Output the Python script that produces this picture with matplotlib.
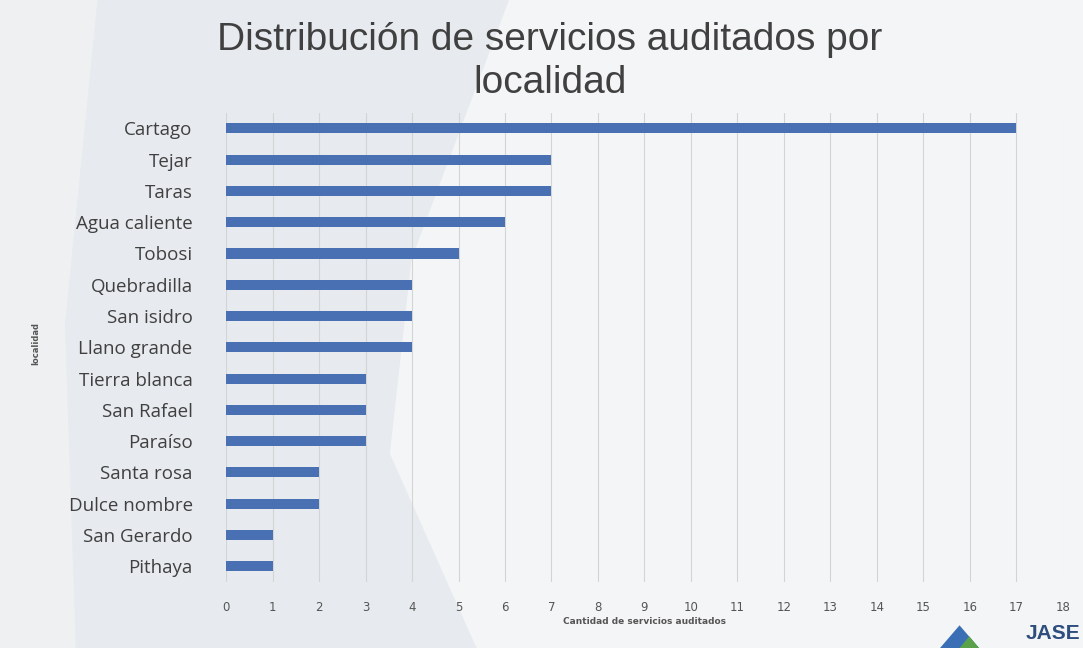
import matplotlib.pyplot as plt
from matplotlib.patches import Polygon

# datos
localidades = ["Cartago", "Tejar", "Taras", "Agua caliente", "Tobosi",
               "Quebradilla", "San isidro", "Llano grande", "Tierra blanca",
               "San Rafael", "Paraíso", "Santa rosa", "Dulce nombre",
               "San Gerardo", "Pithaya"]
servicios = [17, 7, 7, 6, 5, 4, 4, 4, 3, 3, 3, 2, 2, 1, 1]
ticks_x = list(range(0, 19))

fig = plt.figure(figsize=(10.83, 6.48), dpi=100)
fig.patch.set_facecolor("#f4f5f6")

# fondo tipo marca de agua (detrás de los ejes)
fig.patches.append(Polygon([(0, 0), (0.44, 0), (0.36, 0.3), (0.38, 0.6), (0.47, 1.0), (0, 1)],
                           closed=True, transform=fig.transFigure,
                           facecolor="#e7eaee", edgecolor="none", zorder=-2))
fig.patches.append(Polygon([(0, 0), (0.07, 0), (0.06, 0.5), (0.09, 1.0), (0, 1)],
                           closed=True, transform=fig.transFigure,
                           facecolor="#eef0f1", edgecolor="none", zorder=-1))

ax = fig.add_axes([0.2087, 0.102, 0.7728, 0.724])
ax.patch.set_alpha(0)

y = list(range(len(localidades)))
ax.barh(y, servicios, height=0.32, color="#4a70b4", zorder=3)
ax.set_ylim(len(localidades) - 0.5, -0.5)
ax.set_xlim(0, 18)
ax.set_xticks(ticks_x)
ax.set_xticklabels([str(t) for t in ticks_x], fontsize=8.5, color="#555555",
                   family="DejaVu Sans")
ax.set_yticks(y)
ax.set_yticklabels(localidades, fontsize=13.5, color="#404040", family="Open Sans")
ax.tick_params(axis="both", length=0)
ax.tick_params(axis="x", pad=14)
ax.tick_params(axis="y", pad=24)
ax.xaxis.grid(True, color="#d4d4d4", linewidth=0.8, zorder=0)
for s in ax.spines.values():
    s.set_visible(False)

ax.set_xlabel("Cantidad de servicios auditados", fontsize=6.5, color="#555555",
              fontweight="bold", labelpad=2)
fig.text(0.033, 0.47, "localidad", rotation=90, fontsize=6, color="#555555",
         ha="center", va="center", fontweight="bold")

fig.text(0.508, 0.938, "Distribución de servicios auditados por", ha="center",
         va="center", fontsize=28, color="#404040", family="Liberation Sans")
fig.text(0.508, 0.872, "localidad", ha="center", va="center", fontsize=28,
         color="#404040", family="Liberation Sans")

# logo JASE
fig.text(0.947, 0.008, "JASE", ha="left", va="bottom", fontsize=15,
         fontweight="bold", color="#2e4e7e", family="Liberation Sans")
fig.patches.append(Polygon([(0.868, 0.0), (0.886, 0.035), (0.904, 0.0)], closed=True,
                           transform=fig.transFigure, facecolor="#3a6fb5",
                           edgecolor="none"))
fig.patches.append(Polygon([(0.886, 0.0), (0.895, 0.018), (0.904, 0.0)], closed=True,
                           transform=fig.transFigure, facecolor="#5aa24a",
                           edgecolor="none"))

fig.savefig("out.png", dpi=100, facecolor=fig.get_facecolor())
